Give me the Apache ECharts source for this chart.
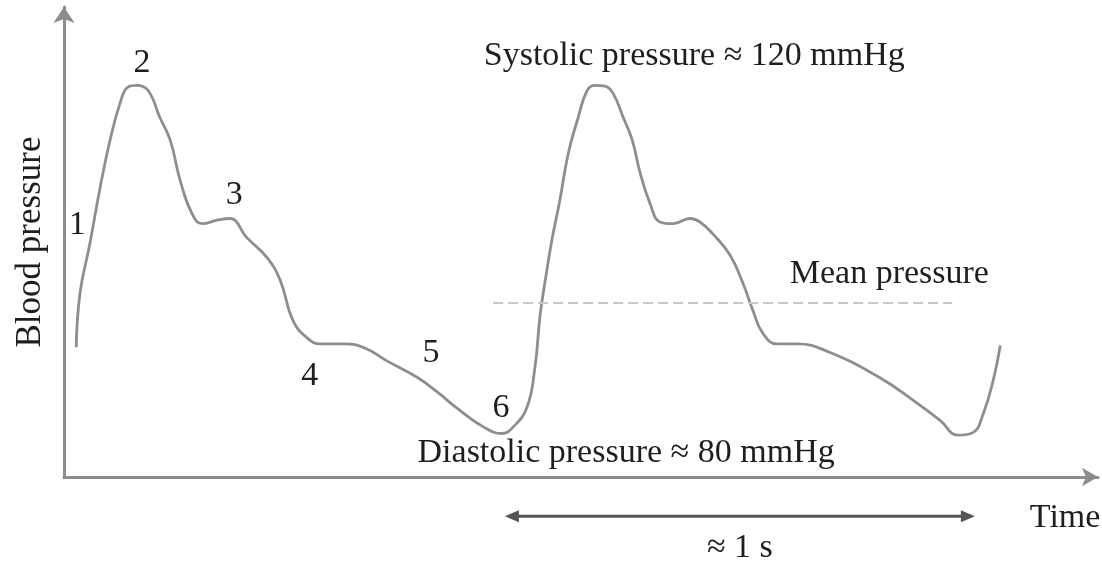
<!DOCTYPE html>
<html>
<head>
<meta charset="utf-8">
<script src="https://cdn.jsdelivr.net/npm/echarts@6/dist/echarts.min.js"></script>
<style>
  html, body { margin: 0; background: #fff; }
  #chart { width: 1102px; height: 561px; }
</style>
</head>
<body>
<div id="chart"></div>
<script>
// time (ms) and blood pressure (mmHg)
const timeMs = [26, 34, 55, 77, 98, 119, 136, 155, 179, 204, 226, 247, 272, 294, 326, 353,
  389, 432, 460, 487, 517, 545, 596, 641, 685, 753, 798, 834, 894, 932, 955, 985,
  1002, 1013, 1024, 1038, 1055, 1073, 1094, 1113, 1130, 1151, 1168, 1190, 1209, 1226,
  1247, 1268, 1296, 1332, 1353, 1381, 1417, 1445, 1466, 1487, 1517, 1560, 1630, 1736,
  1807, 1864, 1902, 1934, 1956, 1977, 1992];
const pressure = [89.9, 96.1, 101.8, 108.3, 113.7, 117.9, 119.8, 120.0, 119.4, 116.3, 113.7,
  109.1, 105.3, 104.1, 104.5, 104.7, 102.5, 100.2, 97.6, 93.0, 91.0, 90.3, 90.3, 89.8,
  88.4, 86.4, 84.6, 83.0, 80.7, 80.0, 80.7, 83.0, 87.6, 93.6, 97.6, 102.2, 106.8, 112.2,
  116.3, 119.4, 120.0, 119.9, 119.1, 116.3, 113.7, 109.9, 106.4, 104.3, 104.1, 104.7,
  104.3, 102.9, 100.5, 97.2, 94.1, 91.5, 90.3, 90.3, 89.3, 86.4, 83.8, 81.5, 79.8, 80.1,
  82.3, 86.1, 90.1];

const meanPressure = 95;
const meanSpan = [913, 1890];     // ms range of the dashed mean line
const cycleSpan = [938, 1938];    // one cardiac cycle, ≈ 1 s

// numbered points on the wave: [label, time, pressure]
const pointLabels = [
  ['1', 28, 103.9],
  ['2', 166, 122.6],
  ['3', 362, 107.4],
  ['4', 523, 86.6],
  ['5', 781, 89.2],
  ['6', 930, 82.9]
];

const serif = 'Liberation Serif, Times New Roman, serif';
const ink = '#1e1e1e';
const axisGray = '#8c8c8c';

const chart = echarts.init(document.getElementById('chart'));

chart.setOption({
  animation: false,
  grid: { left: 64, top: 7, width: 1034, bottom: 84, containLabel: false },
  xAxis: {
    type: 'value',
    min: 0,
    max: 2200,
    axisLine: {
      show: true,
      symbol: ['none', 'arrow'],
      symbolSize: [14, 16],
      lineStyle: { color: axisGray, width: 3 }
    },
    axisTick: { show: false },
    axisLabel: { show: false },
    splitLine: { show: false }
  },
  yAxis: {
    type: 'value',
    min: 75,
    max: 129,
    axisLine: {
      show: true,
      symbol: ['none', 'arrow'],
      symbolSize: [16, 16],
      lineStyle: { color: axisGray, width: 3 }
    },
    axisTick: { show: false },
    axisLabel: { show: false },
    splitLine: { show: false }
  },
  series: [{
    type: 'line',
    data: timeMs.map((t, i) => [t, pressure[i]]),
    smooth: 0.45,
    showSymbol: false,
    lineStyle: { color: '#8e8e8e', width: 2.8 },
    markLine: {
      silent: true,
      symbol: ['none', 'none'],
      label: { show: false },
      lineStyle: { color: '#c8c8c8', type: [10, 5], width: 2 },
      data: [[{ coord: [meanSpan[0], meanPressure] }, { coord: [meanSpan[1], meanPressure] }]]
    }
  }]
});

// annotations, placed in data units
const px = (t, p) => chart.convertToPixel({ gridIndex: 0 }, [t, p]);

const txt = (str, pos, opt) => ({
  type: 'text',
  x: pos[0],
  y: pos[1],
  style: Object.assign({
    text: str,
    font: '34px ' + serif,
    fill: ink,
    align: 'center',
    verticalAlign: 'middle'
  }, opt || {})
});

const graphics = pointLabels.map(d => txt(d[0], px(d[1], d[2])));

graphics.push(txt('Systolic pressure \u2248 120 mmHg', px(1341, 123.4)));
graphics.push(txt('Diastolic pressure \u2248 80 mmHg', px(1196, 77.7)));
graphics.push(txt('Mean pressure', px(1756, 98.3)));
graphics.push(txt('Time', px(2130, 70.3)));
graphics.push(txt('\u2248 1 s', px(1438, 66.8)));

// y axis title
const yMid = px(0, 102);
graphics.push({
  type: 'text',
  x: 31,
  y: yMid[1],
  rotation: Math.PI / 2,
  style: {
    text: 'Blood pressure',
    font: '35px ' + serif,
    fill: ink,
    align: 'center',
    verticalAlign: 'middle'
  }
});

// double-headed arrow for one cycle
const a = px(cycleSpan[0], 70.5);
const b = px(cycleSpan[1], 70.5);
const head = 14, half = 6;
graphics.push({
  type: 'line',
  shape: { x1: a[0] + 4, y1: a[1], x2: b[0] - 4, y2: b[1] },
  style: { stroke: '#555', lineWidth: 3 }
});
graphics.push({
  type: 'polygon',
  shape: { points: [[a[0], a[1]], [a[0] + head, a[1] - half], [a[0] + head, a[1] + half]] },
  style: { fill: '#555' }
});
graphics.push({
  type: 'polygon',
  shape: { points: [[b[0], b[1]], [b[0] - head, b[1] - half], [b[0] - head, b[1] + half]] },
  style: { fill: '#555' }
});

chart.setOption({ graphic: graphics });
</script>
</body>
</html>
